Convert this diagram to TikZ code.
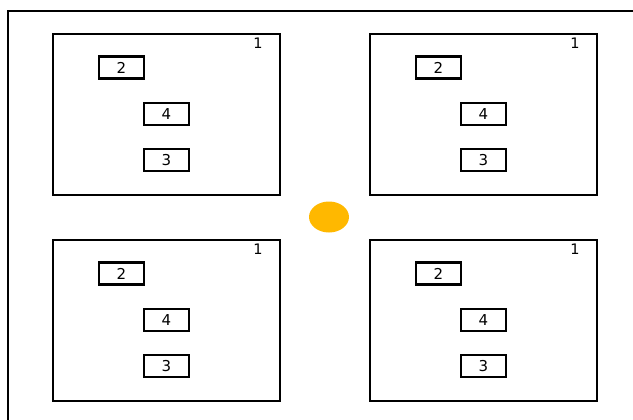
\documentclass[tikz,border=0pt]{standalone}
\usepackage{fontspec}
\setmainfont{DejaVu Sans}
\definecolor{sun}{HTML}{FFB800}
\begin{document}
\begin{tikzpicture}[x=1pt,y=-1pt,
  frame/.style={draw=black,line width=2.6pt},
  big/.style={draw=black,line width=2.6pt},
  small/.style={draw=black,line width=2.6pt,minimum width=45pt,minimum height=22pt,inner sep=0pt,font=\fontsize{15}{15}\selectfont},
  num/.style={inner sep=0pt,font=\fontsize{14.5}{14.5}\selectfont}]
\useasboundingbox (0,0) rectangle (633,420);
\draw[frame] (8,425) -- (8,11) -- (640,11);
\foreach \dx/\dy/\n in {0/0/a,317/0/b,0/206/c,317/206/d}{
  \begin{scope}[shift={(\dx,\dy)}]
    \draw[big] (53,34) rectangle (280,195);
    \node[num] (l\n) at (258,43) {1};
    \node[small] (two\n) at (121.5,67.5) {2};
    \node[small] (four\n) at (166.5,114) {4};
    \node[small] (three\n) at (166.5,160) {3};
  \end{scope}
}
\fill[sun] (329,217) ellipse (20 and 15.5);
\end{tikzpicture}
\end{document}
